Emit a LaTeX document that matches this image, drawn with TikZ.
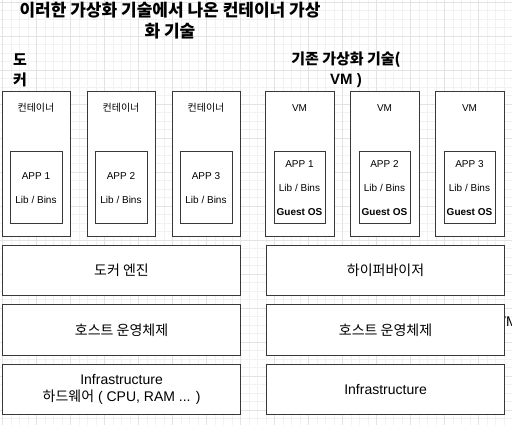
\documentclass[tikz,border=0pt]{standalone}
\usepackage{fontspec}
\setmainfont{Liberation Sans}
\newfontfamily\kr{Noto Sans CJK KR}
\begin{document}
\begin{tikzpicture}[x=1pt,y=-1pt,
  box/.style={draw=black!78, line width=1.1pt, fill=white, inner sep=0pt, anchor=north west},
  gridminor/.style={draw=black!5, line width=0.6pt},
  gridmajor/.style={draw=black!11, line width=0.7pt},
  small/.style={font=\fontsize{10}{12}\selectfont, inner sep=0pt},
  smallb/.style={font=\fontsize{10}{12}\selectfont\bfseries, inner sep=0pt},
  lbl/.style={font=\fontsize{14}{17}\selectfont, align=center},
  head/.style={font=\fontsize{15}{20}\selectfont\bfseries, align=center, inner sep=0pt}]
\useasboundingbox (0,0) rectangle (512,425);
\clip (0,0) rectangle (512,425);
\fill[white] (0,0) rectangle (512,425);
% grid
\foreach \i in {0,...,60} {
  \pgfmathsetmacro\gx{2.3+8.5*\i}
  \draw[gridminor] (\gx,0) -- (\gx,425);
}
\foreach \i in {0,...,50} {
  \pgfmathsetmacro\gy{2+8.5*\i}
  \draw[gridminor] (0,\gy) -- (512,\gy);
}
\foreach \i in {0,...,15} {
  \pgfmathsetmacro\gx{2.3+34*\i}
  \draw[gridmajor] (\gx,0) -- (\gx,425);
}
\foreach \i in {0,...,12} {
  \pgfmathsetmacro\gy{2+34*\i}
  \draw[gridmajor] (0,\gy) -- (512,\gy);
}
% titles
\node[font=\fontsize{17}{21}\selectfont\bfseries\kr, align=center, inner sep=0pt] (title) at (170,20.5)
  {이러한 가상화 기술에서 나온 컨테이너 가상\\화 기술};
\node[head] (docker) at (20,70) {\kr 도\\\kr 커};
\node[head] (vmhead) at (346,70) {{\kr 기존 가상화 기술(}\\VM )};
\node[font=\fontsize{14}{17}\selectfont, anchor=west, inner sep=0pt] (vmcut) at (496.7,322) {VM};
% containers
\foreach \n/\x/\ax/\k in {1/2/10/1, 2/87/95/2, 3/172/180/3} {
  \node[box, minimum width=68, minimum height=145] (c\k) at (\x,91) {};
  \node[box, minimum width=52, minimum height=72] (a\k) at (\ax,151) {};
}
\foreach \k/\cx in {1/36, 2/121, 3/206} {
  \node[small] (cl\k) at (\cx,108) {\kr 컨테이너};
  \node[small] (ap\k) at (\cx,176) {APP \k};
  \node[small] (lb\k) at (\cx,200) {Lib / Bins};
}
% VMs
\foreach \x/\ax/\k in {265/274/1, 350/359/2, 435/444/3} {
  \node[box, minimum width=69, minimum height=145] (v\k) at (\x,91) {};
  \node[box, minimum width=51, minimum height=72] (g\k) at (\ax,151) {};
}
\foreach \k/\cx in {1/299.5, 2/384.5, 3/469.5} {
  \node[small] (vl\k) at (\cx,108) {VM};
  \node[small] (vp\k) at (\cx,164) {APP \k};
  \node[small] (vb\k) at (\cx,188) {Lib / Bins};
  \node[smallb] (vg\k) at (\cx,212) {Guest OS};
}
% bars
\node[box, lbl, minimum width=238, minimum height=50] (engine) at (2,245) {\kr 도커 엔진};
\node[box, lbl, minimum width=238, minimum height=51] (hostL) at (2,304) {\kr 호스트 운영체제};
\node[box, lbl, minimum width=238, minimum height=50] (infraL) at (2,364) {Infrastructure\\{\kr 하드웨어} ( CPU, RAM ... )};
\node[box, lbl, minimum width=238, minimum height=50] (hyper) at (266,245) {\kr 하이퍼바이저};
\node[box, lbl, minimum width=238, minimum height=51] (hostR) at (266,304) {\kr 호스트 운영체제};
\node[box, lbl, minimum width=238, minimum height=50] (infraR) at (266,364) {Infrastructure};
\end{tikzpicture}
\end{document}
